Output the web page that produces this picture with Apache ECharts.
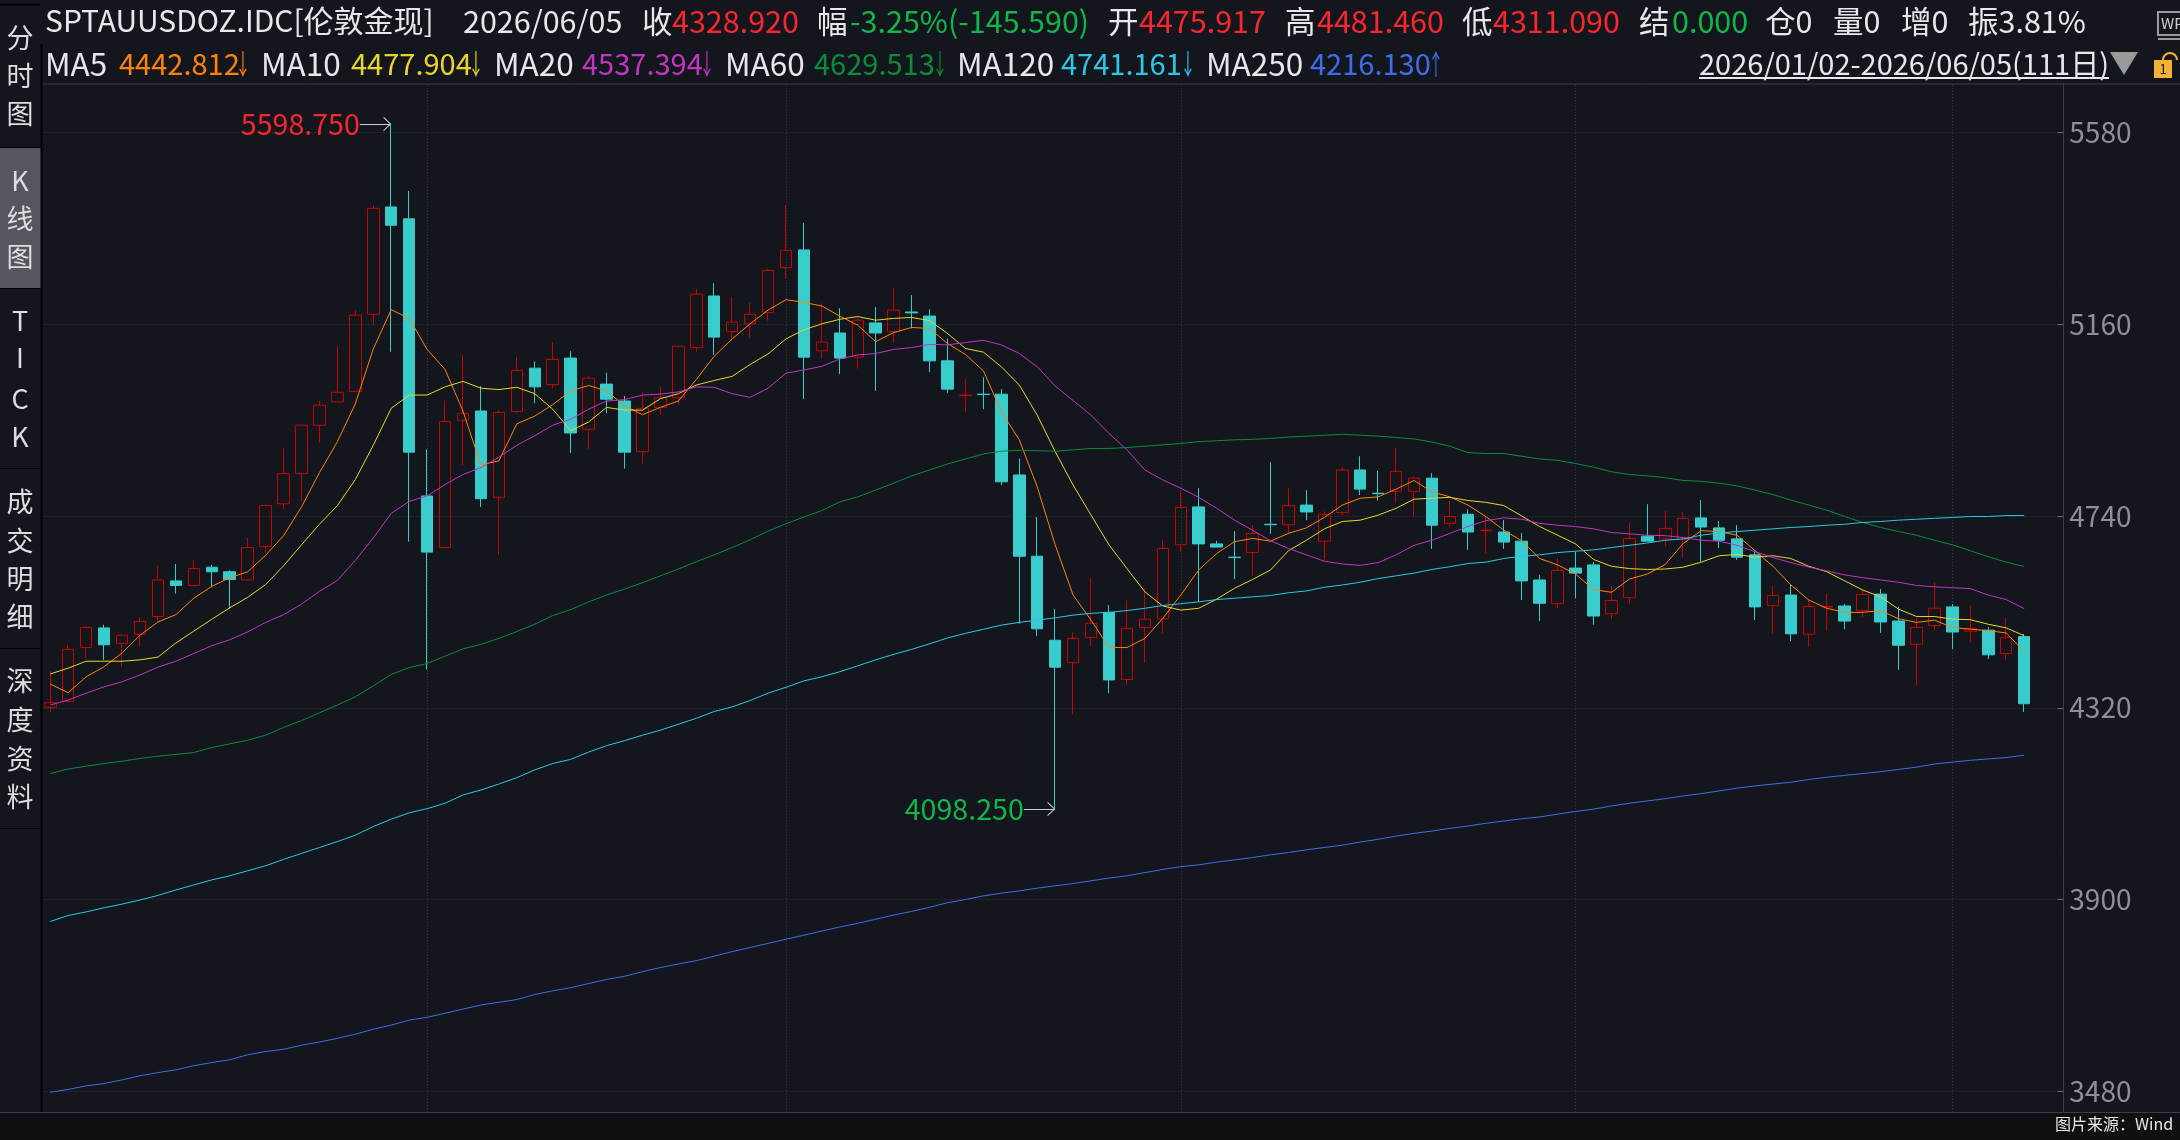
<!DOCTYPE html>
<html lang="zh">
<head>
<meta charset="utf-8">
<title>SPTAUUSDOZ.IDC 伦敦金现 日K线</title>
<style>
  html, body { margin: 0; padding: 0; background: #13171d; }
  #chart { width: 2180px; height: 1140px; }
</style>
<script src="https://cdn.jsdelivr.net/npm/echarts@6/dist/echarts.min.js"></script>
</head>
<body>
<div id="chart"></div>
<script>
// Daily bars, 2026/01/02 - 2026/06/05 (111 sessions)
const opens = [
  4321,4334,4452,4495,4461,4481,4520,4598,4588,4628,
  4618,4600,4673,4767,4833,4939,4990,5013,5182,5417,
  5391,4784,4671,4950,4970,4781,4969,5064,5028,5086,
  4930,5029,4992,4881,4978,4999,5109,5222,5144,5161,
  5186,5284,5323,5102,5141,5088,5163,5144,5187,5178,
  5080,5004,5007,5007,4830,4652,4468,4419,4474,4529,
  4382,4496,4515,4677,4760,4679,4650,4660,4722,4721,
  4764,4685,4748,4841,4790,4794,4794,4823,4724,4744,
  4708,4705,4685,4600,4548,4626,4633,4526,4561,4696,
  4690,4689,4736,4714,4690,4655,4544,4567,4481,4541,
  4543,4533,4569,4510,4459,4500,4541,4488,4490,4439,
  4475.917
];
const closes = [
  4331,4448,4496,4458,4479,4509,4600,4588,4625,4618,
  4601,4671,4763,4833,4939,4983,5011,5180,5414,5377,
  4880,4661,4947,4965,4778,4967,5059,5023,5083,4922,
  5042,4996,4880,4976,4999,5112,5226,5132,5165,5182,
  5278,5322,5088,5121,5086,5169,5141,5191,5185,5080,
  5018,5005,5006,4815,4652,4493,4409,4472,4505,4381,
  4494,4514,4669,4759,4679,4672,4649,4702,4721,4763,
  4749,4743,4841,4799,4789,4838,4823,4720,4739,4705,
  4709,4683,4598,4549,4621,4615,4521,4555,4691,4685,
  4713,4735,4716,4687,4650,4541,4566,4482,4542,4542,
  4510,4568,4508,4457,4496,4538,4486,4494,4436,4474,
  4328.92
];
const lows = [
  4311,4332,4429,4425,4410,4454,4509,4570,4587,4584,
  4537,4599,4658,4756,4773,4900,4990,5012,5159,5100,
  4684,4404,4669,4852,4760,4655,4965,4987,5020,4878,
  4887,4965,4844,4854,4962,4984,5100,5093,5125,5130,
  5168,5260,4996,5084,5051,5063,5014,5119,5151,5055,
  5010,4968,4974,4808,4504,4477,4098.25,4306,4455,4352,
  4370,4418,4484,4662,4552,4672,4602,4609,4701,4701,
  4731,4641,4742,4786,4774,4768,4739,4668,4716,4666,
  4659,4668,4556,4510,4538,4560,4502,4514,4547,4685,
  4674,4649,4640,4670,4644,4512,4482,4466,4453,4488,
  4492,4519,4484,4403,4368,4490,4449,4464,4427,4425,
  4311.09
];
const highs = [
  4401,4458,4499,4502,4482,4518,4631,4635,4643,4633,
  4621,4692,4765,4889,4941,4992,5112,5191,5421,5598.75,
  5452,4886,4993,5093,5025,4972,5088,5079,5121,5101,
  5046,5054,5003,5011,5023,5112,5238,5250,5220,5207,
  5282,5421,5382,5206,5195,5175,5198,5240,5224,5193,
  5129,5040,5044,5018,4866,4738,4536,4485,4604,4545,
  4555,4582,4688,4795,4801,4686,4707,4720,4858,4801,
  4797,4750,4847,4871,4839,4890,4828,4834,4773,4755,
  4739,4731,4703,4611,4648,4662,4639,4587,4725,4766,
  4751,4749,4775,4729,4720,4663,4587,4591,4556,4571,
  4547,4578,4580,4541,4517,4595,4547,4543,4497,4517,
  4481.46
];

// Moving averages
const ma5 = [
  4372,4353,4388,4410,4440,4479,4508,4524,4560,4586,
  4605,4618,4654,4697,4760,4835,4903,4986,5106,5192,
  5173,5105,5061,4970,4852,4861,4942,4959,4984,5014,
  5026,5014,4982,4962,4978,4992,5039,5090,5128,5161,
  5191,5214,5208,5200,5178,5158,5122,5142,5153,5151,
  5118,5094,5058,4969,4907,4804,4677,4567,4512,4452,
  4452,4472,4516,4567,4622,4658,4684,4691,4685,4702,
  4714,4737,4764,4779,4782,4799,4818,4793,4782,4764,
  4739,4709,4686,4647,4633,4613,4579,4573,4602,4613,
  4634,4680,4708,4706,4698,4664,4630,4589,4556,4538,
  4529,4529,4533,4515,4507,4512,4496,4492,4489,4484,
  4442.812
];
const ma10 = [
  4394,4407,4422,4422,4422,4425,4431,4462,4488,4514,
  4539,4562,4590,4631,4677,4722,4763,4820,4895,4976,
  5005,5005,5023,5035,5020,5017,5022,5008,4974,4927,
  4946,4978,4972,4972,4997,5008,5027,5037,5046,5072,
  5095,5128,5148,5161,5171,5177,5169,5173,5175,5168,
  5140,5107,5099,5067,5027,4961,4881,4808,4742,4677,
  4625,4574,4543,4534,4538,4558,4582,4601,4622,4664,
  4687,4712,4728,4731,4742,4757,4777,4779,4781,4774,
  4770,4763,4740,4717,4698,4679,4645,4630,4625,4623,
  4624,4628,4639,4653,4656,4650,4653,4647,4630,4618,
  4598,4578,4563,4536,4520,4520,4514,4513,4503,4495,
  4477.904
];
const ma20 = [
  4326,4337,4352,4366,4377,4392,4409,4422,4439,4456,
  4469,4486,4507,4524,4547,4575,4599,4643,4692,4746,
  4772,4784,4809,4831,4846,4869,4895,4916,4939,4952,
  4974,4992,4995,5005,5007,5012,5023,5022,5008,5000,
  5020,5053,5060,5068,5084,5093,5096,5105,5109,5116,
  5115,5120,5125,5115,5096,5067,5025,4993,4961,4921,
  4885,4841,4819,4801,4781,4757,4731,4709,4686,4669,
  4655,4641,4635,4632,4638,4655,4676,4687,4702,4717,
  4730,4736,4733,4724,4720,4717,4712,4704,4701,4698,
  4697,4693,4687,4685,4676,4662,4649,4638,4628,4620,
  4611,4605,4600,4595,4588,4585,4583,4581,4567,4557,
  4537.394
];
const ma60 = [
  4176,4186,4192,4198,4203,4209,4214,4218,4222,4233,
  4241,4249,4260,4277,4292,4309,4326,4344,4368,4393,
  4408,4417,4433,4449,4459,4472,4487,4503,4522,4535,
  4552,4567,4580,4594,4609,4624,4640,4655,4671,4688,
  4707,4723,4738,4752,4771,4782,4797,4812,4828,4841,
  4854,4865,4876,4882,4884,4883,4882,4885,4888,4888,
  4890,4893,4896,4899,4903,4905,4907,4908,4910,4913,
  4915,4917,4919,4917,4915,4912,4909,4902,4893,4879,
  4877,4877,4871,4865,4862,4855,4847,4837,4831,4828,
  4824,4818,4816,4812,4806,4797,4787,4775,4764,4753,
  4739,4726,4715,4706,4698,4687,4677,4664,4651,4639,
  4629.513
];
const ma120 = [
  3852,3865,3873,3882,3890,3899,3909,3921,3932,3943,
  3952,3963,3974,3988,4001,4014,4027,4041,4060,4076,
  4090,4099,4111,4129,4140,4153,4167,4184,4198,4207,
  4223,4237,4248,4260,4271,4284,4297,4312,4322,4336,
  4352,4365,4379,4388,4399,4412,4425,4437,4448,4460,
  4473,4483,4492,4501,4507,4512,4517,4523,4527,4529,
  4533,4538,4544,4548,4552,4557,4560,4563,4566,4572,
  4576,4584,4589,4595,4603,4609,4615,4623,4629,4636,
  4639,4647,4652,4655,4660,4663,4666,4671,4676,4681,
  4687,4690,4698,4703,4706,4709,4712,4715,4717,4720,
  4722,4726,4728,4731,4733,4735,4737,4739,4739,4741,
  4741.161
];
const ma250 = [
  3478,3484,3492,3497,3505,3514,3521,3527,3536,3543,
  3549,3560,3567,3572,3581,3588,3596,3605,3616,3625,
  3636,3642,3651,3660,3669,3675,3681,3692,3700,3707,
  3716,3725,3732,3742,3751,3759,3766,3776,3786,3795,
  3804,3813,3822,3831,3840,3848,3857,3866,3874,3883,
  3893,3900,3908,3914,3919,3925,3930,3935,3941,3947,
  3952,3959,3966,3972,3976,3982,3987,3992,3998,4003,
  4009,4014,4019,4026,4032,4039,4045,4050,4056,4061,
  4067,4072,4077,4081,4087,4093,4098,4105,4111,4116,
  4121,4127,4132,4138,4144,4149,4153,4157,4163,4168,
  4172,4176,4180,4185,4190,4197,4201,4205,4208,4211,
  4216.13
];

// Sessions that open a new month
const monthStarts = [21, 41, 63, 85, 106];

// Strings for the quote header, the MA legend and the side tabs
const instrumentName = 'SPTAUUSDOZ.IDC[伦敦金现]';
const headerTop = [
  ['2026/06/05', 463, 'white'],
  ['收', 642, 'white'], ['4328.920', 672, 'red'],
  ['幅', 817, 'white'], ['-3.25%(-145.590)', 850, 'green'],
  ['开', 1108, 'white'], ['4475.917', 1139, 'red'],
  ['高', 1285, 'white'], ['4481.460', 1317, 'red'],
  ['低', 1462, 'white'], ['4311.090', 1493, 'red'],
  ['结', 1639, 'white'], ['0.000', 1672, 'green'],
  ['仓0', 1765, 'white'], ['量0', 1833, 'white'],
  ['增0', 1901, 'white'], ['振3.81%', 1968, 'white']
];
const headerMaNames = [['MA5', 45], ['MA10', 261], ['MA20', 494], ['MA60', 725], ['MA120', 957], ['MA250', 1206]];
const headerMaValues = [
  ['4442.812', 119, 'ma5'], ['4477.904', 351, 'ma10'], ['4537.394', 582, 'ma20'],
  ['4629.513', 814, 'ma60'], ['4741.161', 1061, 'ma120'], ['4216.130', 1310, 'ma250']
];
const headerMaArrows = [
  ['↓', 243, 'ma5'], ['↓', 476, 'ma10'], ['↓', 707, 'ma20'],
  ['↓', 940, 'ma60'], ['↓', 1188, 'ma120'], ['↑', 1436, 'ma250']
];
const rangeText = '2026/01/02-2026/06/05(111日)';
const sideTabs = [
  [['分', 38], ['时', 76], ['图', 114]],
  [['K', 181], ['线', 219], ['图', 257]],
  [['T', 321], ['I', 358], ['C', 399], ['K', 437]],
  [['成', 502], ['交', 541], ['明', 579], ['细', 617]],
  [['深', 681], ['度', 720], ['资', 759], ['料', 797]]
];
const tabDividers = [147, 288, 468, 648, 828];

const colors = {
  bg: '#13171d', white: '#e6e8ea', red: '#f9262f', green: '#12b54a',
  up: '#cc0000', down: '#39cccc',
  ma5: '#ff8208', ma10: '#e8d52b', ma20: '#c234c2',
  ma60: '#0a8c3a', ma120: '#2cc8e6', ma250: '#3d6ee8',
  axis: '#3b3e43', grid: '#363a3f', tick: '#8d9094'
};
const cjk = '"Noto Sans CJK SC", "Microsoft YaHei", sans-serif';

const chart = echarts.init(document.getElementById('chart'), null, { renderer: 'canvas' });

function textItem(text, x, y, fill, size, extra) {
  return {
    type: 'text', x, y, z: 102, silent: true,
    style: Object.assign({
      text, fill, font: size + 'px ' + cjk, verticalAlign: 'middle', align: 'left'
    }, extra || {})
  };
}
function rectItem(x, y, width, height, fill, z) {
  return { type: 'rect', z: z || 100, silent: true, shape: { x, y, width, height }, style: { fill } };
}
function lineItem(x1, y1, x2, y2, stroke, width) {
  return { type: 'line', z: 101, silent: true, shape: { x1, y1, x2, y2 }, style: { stroke, lineWidth: width || 1 } };
}

const chrome = [
  rectItem(0, 0, 2180, 83, colors.bg),
  rectItem(0, 0, 41, 1112, colors.bg),
  rectItem(0, 1112, 2180, 28, '#0e1014'),
  rectItem(0, 147, 41, 141, '#55565e', 101),
  lineItem(41, 84, 2180, 84, colors.axis),
  lineItem(0, 1112.5, 2180, 1112.5, colors.axis),
  lineItem(41.5, 44, 41.5, 1112, '#000000', 2),
  lineItem(0, 4.5, 40, 4.5, '#000000', 2),
  textItem('图片来源：Wind', 2055, 1124, '#e8e8e8', 16)
];
tabDividers.forEach(y => chrome.push(lineItem(0, y + 0.5, 41, y + 0.5, '#000000', 1)));
sideTabs.forEach(tab => tab.forEach(([ch, y]) => {
  chrome.push(textItem(ch, 20, y, '#dcdee0', 27, { align: 'center' }));
}));
chrome.push(textItem(instrumentName, 45, 21, colors.white, 30));
headerTop.forEach(([t, x, c]) => chrome.push(textItem(t, x, 21, colors[c], 30.5)));
headerMaNames.forEach(([t, x]) => chrome.push(textItem(t, x, 64, colors.white, 31.5)));
headerMaValues.forEach(([t, x, c]) => chrome.push(textItem(t, x, 64, colors[c], 29)));
// Full-width arrows squeezed to sit tight against their numbers
headerMaArrows.forEach(([t, x, c]) => {
  const arrow = textItem(t, 0, 0, colors[c], 28, { align: 'center' });
  chrome.push(Object.assign(arrow, { x, y: 64, scaleX: 0.55 }));
});
chrome.push(textItem(rangeText, 1699, 64, colors.white, 29));
chrome.push(lineItem(1699, 78, 2109, 78, colors.white, 2));
chrome.push({
  type: 'polygon', z: 102, silent: true,
  shape: { points: [[2110, 52], [2138, 52], [2124, 75]] }, style: { fill: '#9a9a9a' }
});
// Lock badge and the cut-off desktop glyph in the header's right corner
chrome.push(rectItem(2154, 60, 18, 18, '#f2b233', 102));
chrome.push(textItem('1', 2163, 69, '#13171d', 13, { align: 'center' }));
chrome.push({
  type: 'arc', z: 102, silent: true,
  shape: { cx: 2170, cy: 60, r: 7, startAngle: Math.PI, endAngle: 2 * Math.PI },
  style: { stroke: '#f2b233', fill: null, lineWidth: 2 }
});
chrome.push({
  type: 'rect', z: 102, silent: true, shape: { x: 2158, y: 12, width: 30, height: 23 },
  style: { stroke: '#9a9a9a', fill: null, lineWidth: 2 }
});
chrome.push(textItem('WP', 2161, 23, '#cfcfcf', 15));
chrome.push(lineItem(2158, 39, 2180, 39, '#9a9a9a', 2));

const bars = opens.map((o, i) => [i, o, closes[i], lows[i], highs[i]]);
const asLine = arr => arr.map((v, i) => [i, v]);

// Open chevron whose tip sits in the centre of the symbol's box
const chevron = 'path://M0,0 L10,10 L9,11 L0,2 L-9,11 L-10,10 Z M0,-11 L0,-11 Z';
const peakIdx = highs.indexOf(Math.max(...highs));
const troughIdx = lows.indexOf(Math.min(...lows));

function extremeMark(idx, value, color) {
  return [
    {
      coord: [idx - 1.75, value], symbol: 'none',
      lineStyle: { color: '#c9cbce', width: 1, type: 'solid' },
      label: {
        show: true, position: 'start', distance: 0, color, fontSize: 28.6,
        fontFamily: cjk, formatter: () => value.toFixed(3)
      }
    },
    { coord: [idx, value], symbol: chevron, symbolSize: [14, 16] }
  ];
}

function maSeries(name, data, color) {
  return {
    name, type: 'line', data: asLine(data), showSymbol: false, silent: true,
    lineStyle: { color, width: 1 }, z: 4
  };
}

chart.setOption({
  animation: false,
  backgroundColor: colors.bg,
  graphic: { elements: chrome },
  // The value scale runs past the visible area so that its ticks stay on multiples of 420
  grid: { left: 41.3, width: 2022, top: -59.2, height: 1342.25, outerBoundsMode: 'none', containLabel: false },
  xAxis: { type: 'value', min: -0.5, max: 112.18, show: false, splitLine: { show: false } },
  yAxis: {
    type: 'value', position: 'right', min: 3060, max: 6000, interval: 420, scale: true,
    axisLine: { show: true, onZero: false, lineStyle: { color: colors.axis, width: 1 } },
    axisTick: { show: true, inside: true, length: 6, lineStyle: { color: '#6a6d72' } },
    axisLabel: { color: colors.tick, fontSize: 28, fontFamily: cjk, margin: 6, formatter: v => String(v) },
    splitLine: { show: true, lineStyle: { color: colors.grid, width: 1, type: [1, 2] } }
  },
  series: [
    {
      name: 'K', type: 'candlestick', data: bars, barWidth: 12, silent: true, z: 2,
      itemStyle: {
        color: 'transparent', color0: colors.down,
        borderColor: colors.up, borderColor0: colors.down, borderWidth: 1
      },
      markLine: {
        silent: true, animation: false, symbol: 'none', z: 1,
        label: { show: false },
        lineStyle: { color: colors.grid, width: 1, type: [1, 2] },
        data: monthStarts.map(i => ({ xAxis: i })).concat([
          extremeMark(peakIdx, highs[peakIdx], colors.red),
          extremeMark(troughIdx, lows[troughIdx], colors.green)
        ])
      }
    },
    maSeries('MA5', ma5, colors.ma5),
    maSeries('MA10', ma10, colors.ma10),
    maSeries('MA20', ma20, colors.ma20),
    maSeries('MA60', ma60, colors.ma60),
    maSeries('MA120', ma120, colors.ma120),
    maSeries('MA250', ma250, colors.ma250)
  ]
});
</script>
</body>
</html>
